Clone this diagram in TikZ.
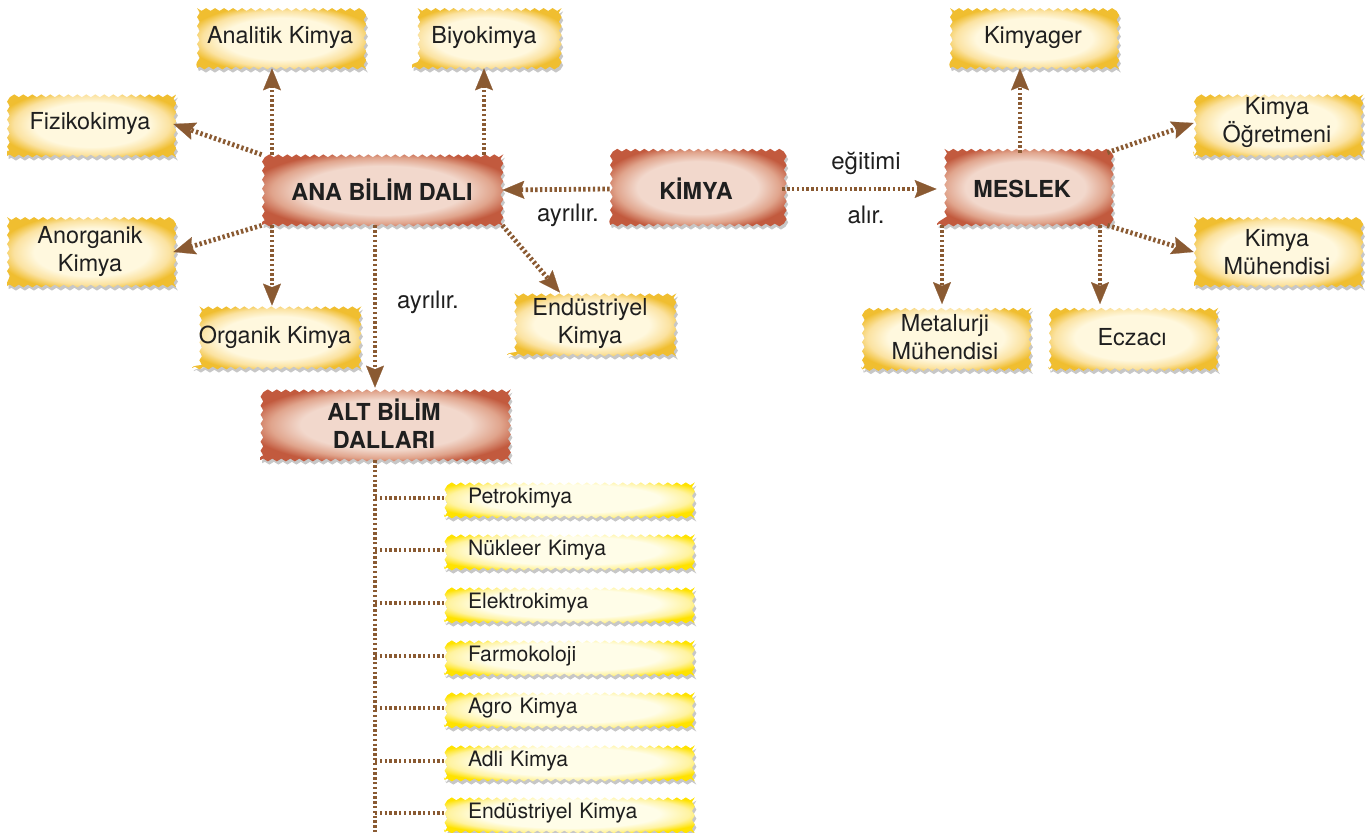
\documentclass[tikz,border=0pt]{standalone}
\usepackage{fontspec}
\setmainfont{TeX Gyre Heros}
\usetikzlibrary{arrows.meta,decorations.pathmorphing,shadows,calc}

\definecolor{brn}{HTML}{8A5A32}
\definecolor{redin}{HTML}{F2D8CC}
\definecolor{redmid}{HTML}{E0A48C}
\definecolor{redout}{HTML}{C25A3E}
\definecolor{ylin}{HTML}{FFF8DE}
\definecolor{ylmid}{HTML}{FBE2A0}
\definecolor{ylout}{HTML}{F0BE30}
\definecolor{lmin}{HTML}{FFFDE8}
\definecolor{lmmid}{HTML}{FFF3A0}
\definecolor{lmout}{HTML}{FFE200}

\pgfdeclareradialshading{redvig}{\pgfpoint{0bp}{0bp}}{%
  color(0bp)=(redin); color(17bp)=(redin); color(23bp)=(redmid); color(28bp)=(redout); color(50bp)=(redout)}
\pgfdeclareradialshading{ylvig}{\pgfpoint{0bp}{0bp}}{%
  color(0bp)=(ylin); color(17bp)=(ylin); color(23bp)=(ylmid); color(28bp)=(ylout); color(50bp)=(ylout)}
\pgfdeclareradialshading{lmvig}{\pgfpoint{0bp}{0bp}}{%
  color(0bp)=(lmin); color(18bp)=(lmin); color(24bp)=(lmmid); color(29bp)=(lmout); color(50bp)=(lmout)}

\tikzset{
  wavy/.style={decorate, decoration={snake, segment length=4.5pt, amplitude=0.7pt}},
  boxshadow/.style={drop shadow={shadow xshift=0.8pt, shadow yshift=-1.6pt, fill=black, opacity=0.22}},
  mainbox/.style={wavy, boxshadow, shading=redvig, inner sep=0pt, align=center,
    font=\bfseries\fontsize{11.7}{14}\selectfont, text=black!88},
  ybox/.style={wavy, boxshadow, shading=ylvig, inner sep=0pt, align=center,
    minimum width=83pt, minimum height=31pt,
    font=\fontsize{11.7}{14}\selectfont, text=black!88},
  lbox/.style={wavy, boxshadow, shading=lmvig, inner xsep=11.75pt, inner ysep=0pt,
    text width=100pt, align=left, minimum height=19pt,
    font=\fontsize{10.6}{12}\selectfont, text=black!88},
  conn/.style={draw=brn, line width=2.4pt, dash pattern=on 1.2pt off 1.2pt,
    -{Stealth[length=11pt, width=9pt, inset=1.8pt, line width=0.1pt]}},
  stub/.style={draw=brn, line width=2.4pt, dash pattern=on 1.2pt off 1.2pt},
  lbl/.style={font=\fontsize{12}{14}\selectfont, text=black!88},
}

\begin{document}
\begin{tikzpicture}[x=0.5pt, y=-0.5pt]
\useasboundingbox (0,0) rectangle (1369,833);

% main concepts
\node[mainbox, minimum width=120pt, minimum height=35pt] (ana) at (382,190) {ANA BİLİM DALI};
\node[mainbox, minimum width=86pt, minimum height=36pt] (kimya) at (696,189) {KİMYA};
\node[mainbox, minimum width=85pt, minimum height=36pt] (meslek) at (1022,189) {MESLEK};
\node[mainbox, minimum width=123.5pt, minimum height=36pt] (alt) at (384,424) {ALT BİLİM\\DALLARI};

% main branches
\node[ybox, minimum height=30pt] (analitik) at (280,38) {Analitik Kimya};
\node[ybox, minimum width=72pt, minimum height=30pt] (biyo) at (484,38) {Biyokimya};
\node[ybox, minimum height=32pt] (fiziko) at (90,124) {Fizikokimya};
\node[ybox, minimum height=34pt] (anorg) at (90,252) {Anorganik\\Kimya};
\node[ybox] (organik) at (275,337) {Organik Kimya};
\node[ybox] (endus) at (590,324) {Endüstriyel\\Kimya};

% professions
\node[ybox, minimum height=30pt] (kimyager) at (1033,38) {Kimyager};
\node[ybox, minimum height=33pt] (ogret) at (1277,123) {Kimya\\Öğretmeni};
\node[ybox, minimum height=34pt] (muh) at (1277,252) {Kimya\\Mühendisi};
\node[ybox, minimum height=32.5pt] (metal) at (945,337) {Metalurji\\Mühendisi};
\node[ybox, minimum height=32.5pt] (eczaci) at (1132,337) {Eczacı};

% sub branches
\node[lbox] (petro) at (568,498) {Petrokimya};
\node[lbox] (nukleer) at (568,550) {Nükleer Kimya};
\node[lbox] (elektro) at (568,603) {Elektrokimya};
\node[lbox] (farmo) at (568,656) {Farmokoloji};
\node[lbox] (agro) at (568,708) {Agro Kimya};
\node[lbox] (adli) at (568,761) {Adli Kimya};
\node[lbox] (endkim) at (568,813) {Endüstriyel Kimya};

% guide coordinates for offset connectors
\coordinate (xa) at (272,0);
\coordinate (xb) at (484,0);
\coordinate (xc) at (375,0);
\coordinate (xd) at (560,0);
\coordinate (xe) at (1020,0);
\coordinate (xf) at (942,0);
\coordinate (xg) at (1100,0);
\coordinate (trunkend) at (375,840);

% connectors
\draw[conn] (ana.north -| xa) -- (analitik.south -| xa);
\draw[conn] (ana.north -| xb) -- (biyo.south -| xb);
\draw[conn] (ana.north west) -- (fiziko.east);
\draw[conn] (ana.south west) -- (anorg.east);
\draw[conn] (ana.south -| xa) -- (organik.north -| xa);
\draw[conn] (ana.south -| xc) -- (alt.north -| xc);
\draw[conn] (ana.south east) -- (endus.north -| xd);
\draw[conn] (kimya.west) -- (ana.east);
\draw[conn] (kimya.east) -- (meslek.west);
\draw[conn] (meslek.north -| xe) -- (kimyager.south -| xe);
\draw[conn] (meslek.north east) -- (ogret.west);
\draw[conn] (meslek.south east) -- (muh.west);
\draw[conn] (meslek.south -| xf) -- (metal.north -| xf);
\draw[conn] (meslek.south -| xg) -- (eczaci.north -| xg);

% trunk of sub branches
\draw[stub] (alt.south -| xc) -- (trunkend);
\foreach \n in {petro,nukleer,elektro,farmo,agro,adli,endkim}
  \draw[stub] (\n.west -| xc) -- (\n.west);

% labels
\node[lbl] (l1) at (428,302) {ayrılır.};
\node[lbl] (l2) at (568,215) {ayrılır.};
\node[lbl] (l3) at (866,163) {eğitimi};
\node[lbl] (l4) at (866,215) {alır.};
\end{tikzpicture}
\end{document}
